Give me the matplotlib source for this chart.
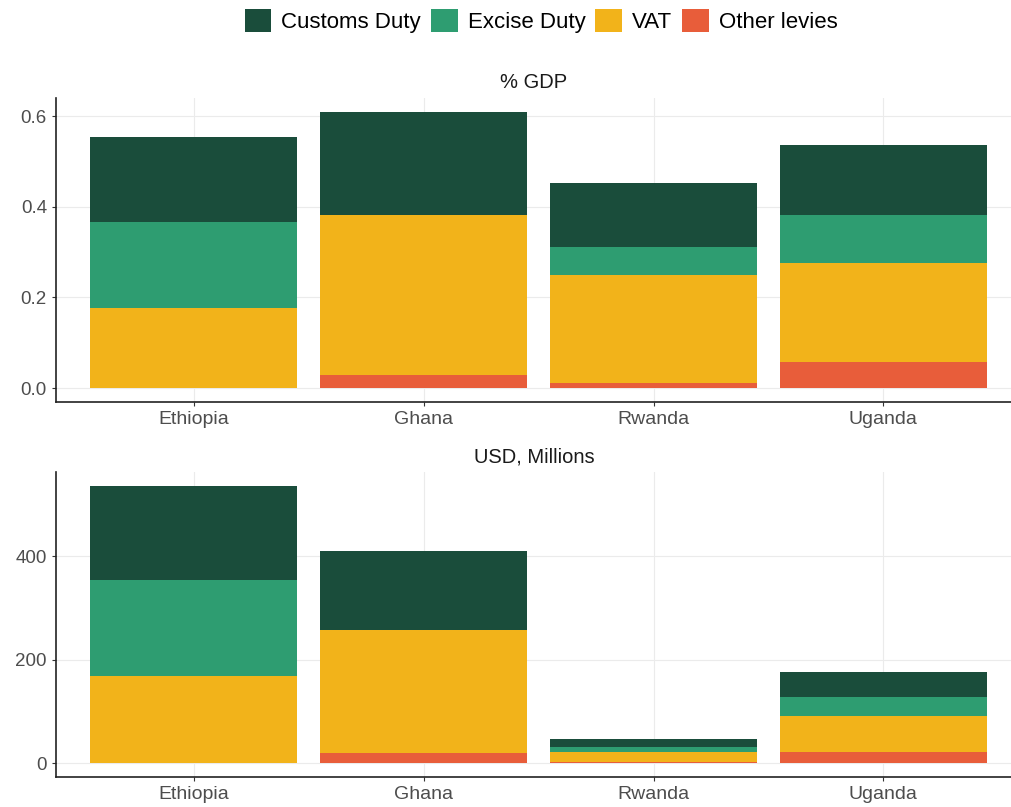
import matplotlib
matplotlib.use('Agg')
import matplotlib.pyplot as plt
from matplotlib.patches import Patch
import numpy as np

plt.rcParams['font.family'] = ['Liberation Sans', 'DejaVu Sans']

countries = ['Ethiopia', 'Ghana', 'Rwanda', 'Uganda']
levies = ['Customs Duty', 'Excise Duty', 'VAT', 'Other levies']
colors = ['#1a4d3b', '#2e9d71', '#f2b31a', '#e85d3a']

# share of GDP (%)
gdp_other = [0.0, 0.030, 0.012, 0.058]
gdp_vat = [0.176, 0.352, 0.238, 0.217]
gdp_excise = [0.191, 0.0, 0.061, 0.108]
gdp_customs = [0.187, 0.227, 0.141, 0.153]

# USD, millions
usd_other = [0.0, 19, 1.5, 21]
usd_vat = [168, 238, 21, 71]
usd_excise = [187, 0, 8.5, 35]
usd_customs = [181, 153, 16, 50]

fig = plt.figure(figsize=(10.12, 8.07), dpi=100)
ax1 = fig.add_axes([56/1012, 1 - 402/807, 1 - 56/1012, 304/807])
ax2 = fig.add_axes([56/1012, 1 - 777/807, 1 - 56/1012, 305/807])

x = np.arange(1, len(countries) + 1)

def draw(ax, stack, title, ylim, yticks, yticklabels):
    bottom = np.zeros(len(countries))
    # stack from bottom: other, vat, excise, customs
    for k in [3, 2, 1, 0]:
        vals = np.array(stack[k], dtype=float)
        ax.bar(x, vals, width=0.9, bottom=bottom, color=colors[k],
               label=levies[k], zorder=3, linewidth=0)
        bottom += vals
    ax.set_xlim(0.4, 4.56)
    ax.set_ylim(*ylim)
    ax.set_xticks(x)
    ax.set_xticklabels(countries)
    ax.set_yticks(yticks)
    ax.set_yticklabels(yticklabels)
    ax.grid(True, color='#ebebeb', linewidth=0.8, zorder=0)
    for s in ['top', 'right']:
        ax.spines[s].set_visible(False)
    for s in ['left', 'bottom']:
        ax.spines[s].set_color('#222222')
        ax.spines[s].set_linewidth(1.2)
    ax.tick_params(axis='x', labelsize=14)
    ax.tick_params(axis='y', labelsize=13.5)
    ax.tick_params(axis='both', colors='#333333', labelcolor='#4d4d4d',
                   length=3, width=0.8)
    ax.set_title(title, fontsize=14.5, color='#1a1a1a', pad=7)

draw(ax1, [gdp_customs, gdp_excise, gdp_vat, gdp_other], '% GDP',
     (-0.0305, 0.640), [0, 0.2, 0.4, 0.6], ['0.0', '0.2', '0.4', '0.6'])
draw(ax2, [usd_customs, usd_excise, usd_vat, usd_other], 'USD, Millions',
     (-26.8, 563), [0, 200, 400], ['0', '200', '400'])

leg_handles = [Patch(facecolor=c, edgecolor='none') for c in colors]
fig.legend(leg_handles, levies, loc='center', bbox_to_anchor=(541/1012, 1 - 21/807),
           ncol=4, frameon=False, fontsize=16, handlelength=1.2, handleheight=1.2,
           handletextpad=0.45, columnspacing=0.45)

fig.savefig('out.png', dpi=100)
